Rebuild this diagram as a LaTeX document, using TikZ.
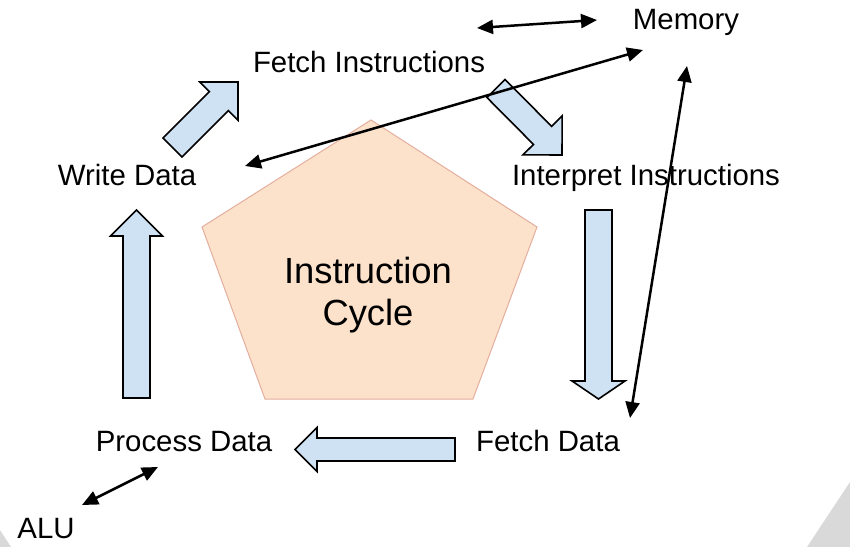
\documentclass[tikz,border=0pt]{standalone}
\usepackage{fontspec}
\setmainfont{Liberation Sans}
\usetikzlibrary{arrows.meta,calc}

\definecolor{blockfill}{HTML}{CFE2F3}
\definecolor{pentfill}{HTML}{FCE2CB}
\definecolor{pentline}{HTML}{E4AE9E}
\definecolor{cornergray}{HTML}{D9D9D9}

% tail, tip, shaft half width, head half width, head length
\newcommand{\blockarrow}[5]{%
    \coordinate (hb) at ($(#2)!#5!(#1)$);
    \draw[flow] ($(#1)!#3!90:(#2)$) -- ($(hb)!#3!90:(#2)$) -- ($(hb)!#4!90:(#2)$)
        -- (#2) -- ($(hb)!#4!-90:(#2)$) -- ($(hb)!#3!-90:(#2)$) -- ($(#1)!#3!-90:(#2)$) -- cycle;
}

\begin{document}
\begin{tikzpicture}[
    x=1bp, y=-1bp,
    stage/.style={anchor=base, inner sep=0pt, font=\fontsize{29.5}{35}\selectfont},
    title/.style={align=center, inner sep=0pt, font=\fontsize{36.5}{42}\selectfont},
    pentagon/.style={fill=pentfill, draw=pentline, line width=1bp},
    flow/.style={fill=blockfill, draw=black, line width=1.6bp, line join=miter},
    link/.style={{Triangle[length=16bp, width=14bp]}-{Triangle[length=16bp, width=14bp]}, line width=2.5bp},
]
    \useasboundingbox (0,0) rectangle (850,547);
    \fill[cornergray] (0,530) -- (11,547) -- (0,547) -- cycle;
    \fill[cornergray] (807,547) -- (850,482) -- (850,547) -- cycle;

    \draw[pentagon] (371,120) -- (537,227) -- (473,399) -- (265,399) -- (202,227) -- cycle;
    \node[title] (cyc) at (368,295) {Instruction\\Cycle};

    \node[stage] (memory) at (686,30) {Memory};
    \node[stage] (fetchins) at (369,73) {Fetch Instructions};
    \node[stage] (interpret) at (646,186) {Interpret Instructions};
    \node[stage] (writedata) at (127,186) {Write Data};
    \node[stage] (process) at (184,451) {Process Data};
    \node[stage] (fetchdata) at (548,451) {Fetch Data};
    \node[stage] (alu) at (46,538) {ALU};

    \coordinate (wd-tail) at (172.5,147.5);
    \coordinate (fi-tip) at (238,82);
    \coordinate (fi-tail) at (496,88.5);
    \coordinate (ii-tip) at (562,155);
    \coordinate (ii-tail) at (598.5,210);
    \coordinate (fd-tip) at (598.5,399);
    \coordinate (fd-tail) at (455,449.5);
    \coordinate (pd-tip) at (295,449.5);
    \coordinate (pd-tail) at (136.5,398);
    \coordinate (wd-tip) at (136.5,210);

    \blockarrow{wd-tail}{fi-tip}{13.4bp}{27bp}{27bp}
    \blockarrow{fi-tail}{ii-tip}{12.8bp}{27.6bp}{27.6bp}
    \blockarrow{ii-tail}{fd-tip}{13.5bp}{26.5bp}{18bp}
    \blockarrow{fd-tail}{pd-tip}{11.5bp}{22bp}{22bp}
    \blockarrow{pd-tail}{wd-tip}{13.5bp}{26bp}{26bp}

    \coordinate (mem-a) at (477,28);
    \coordinate (mem-b) at (597,20);
    \coordinate (mem-c) at (643,50);
    \coordinate (wd-end) at (245,166);
    \coordinate (mem-d) at (687,66);
    \coordinate (fd-end) at (630,418);
    \coordinate (pd-end) at (158,467);
    \coordinate (alu-end) at (82,505);

    \draw[link] (mem-a) -- (mem-b);
    \draw[link] (wd-end) -- (mem-c);
    \draw[link] (fd-end) -- (mem-d);
    \draw[link] (alu-end) -- (pd-end);
\end{tikzpicture}
\end{document}
